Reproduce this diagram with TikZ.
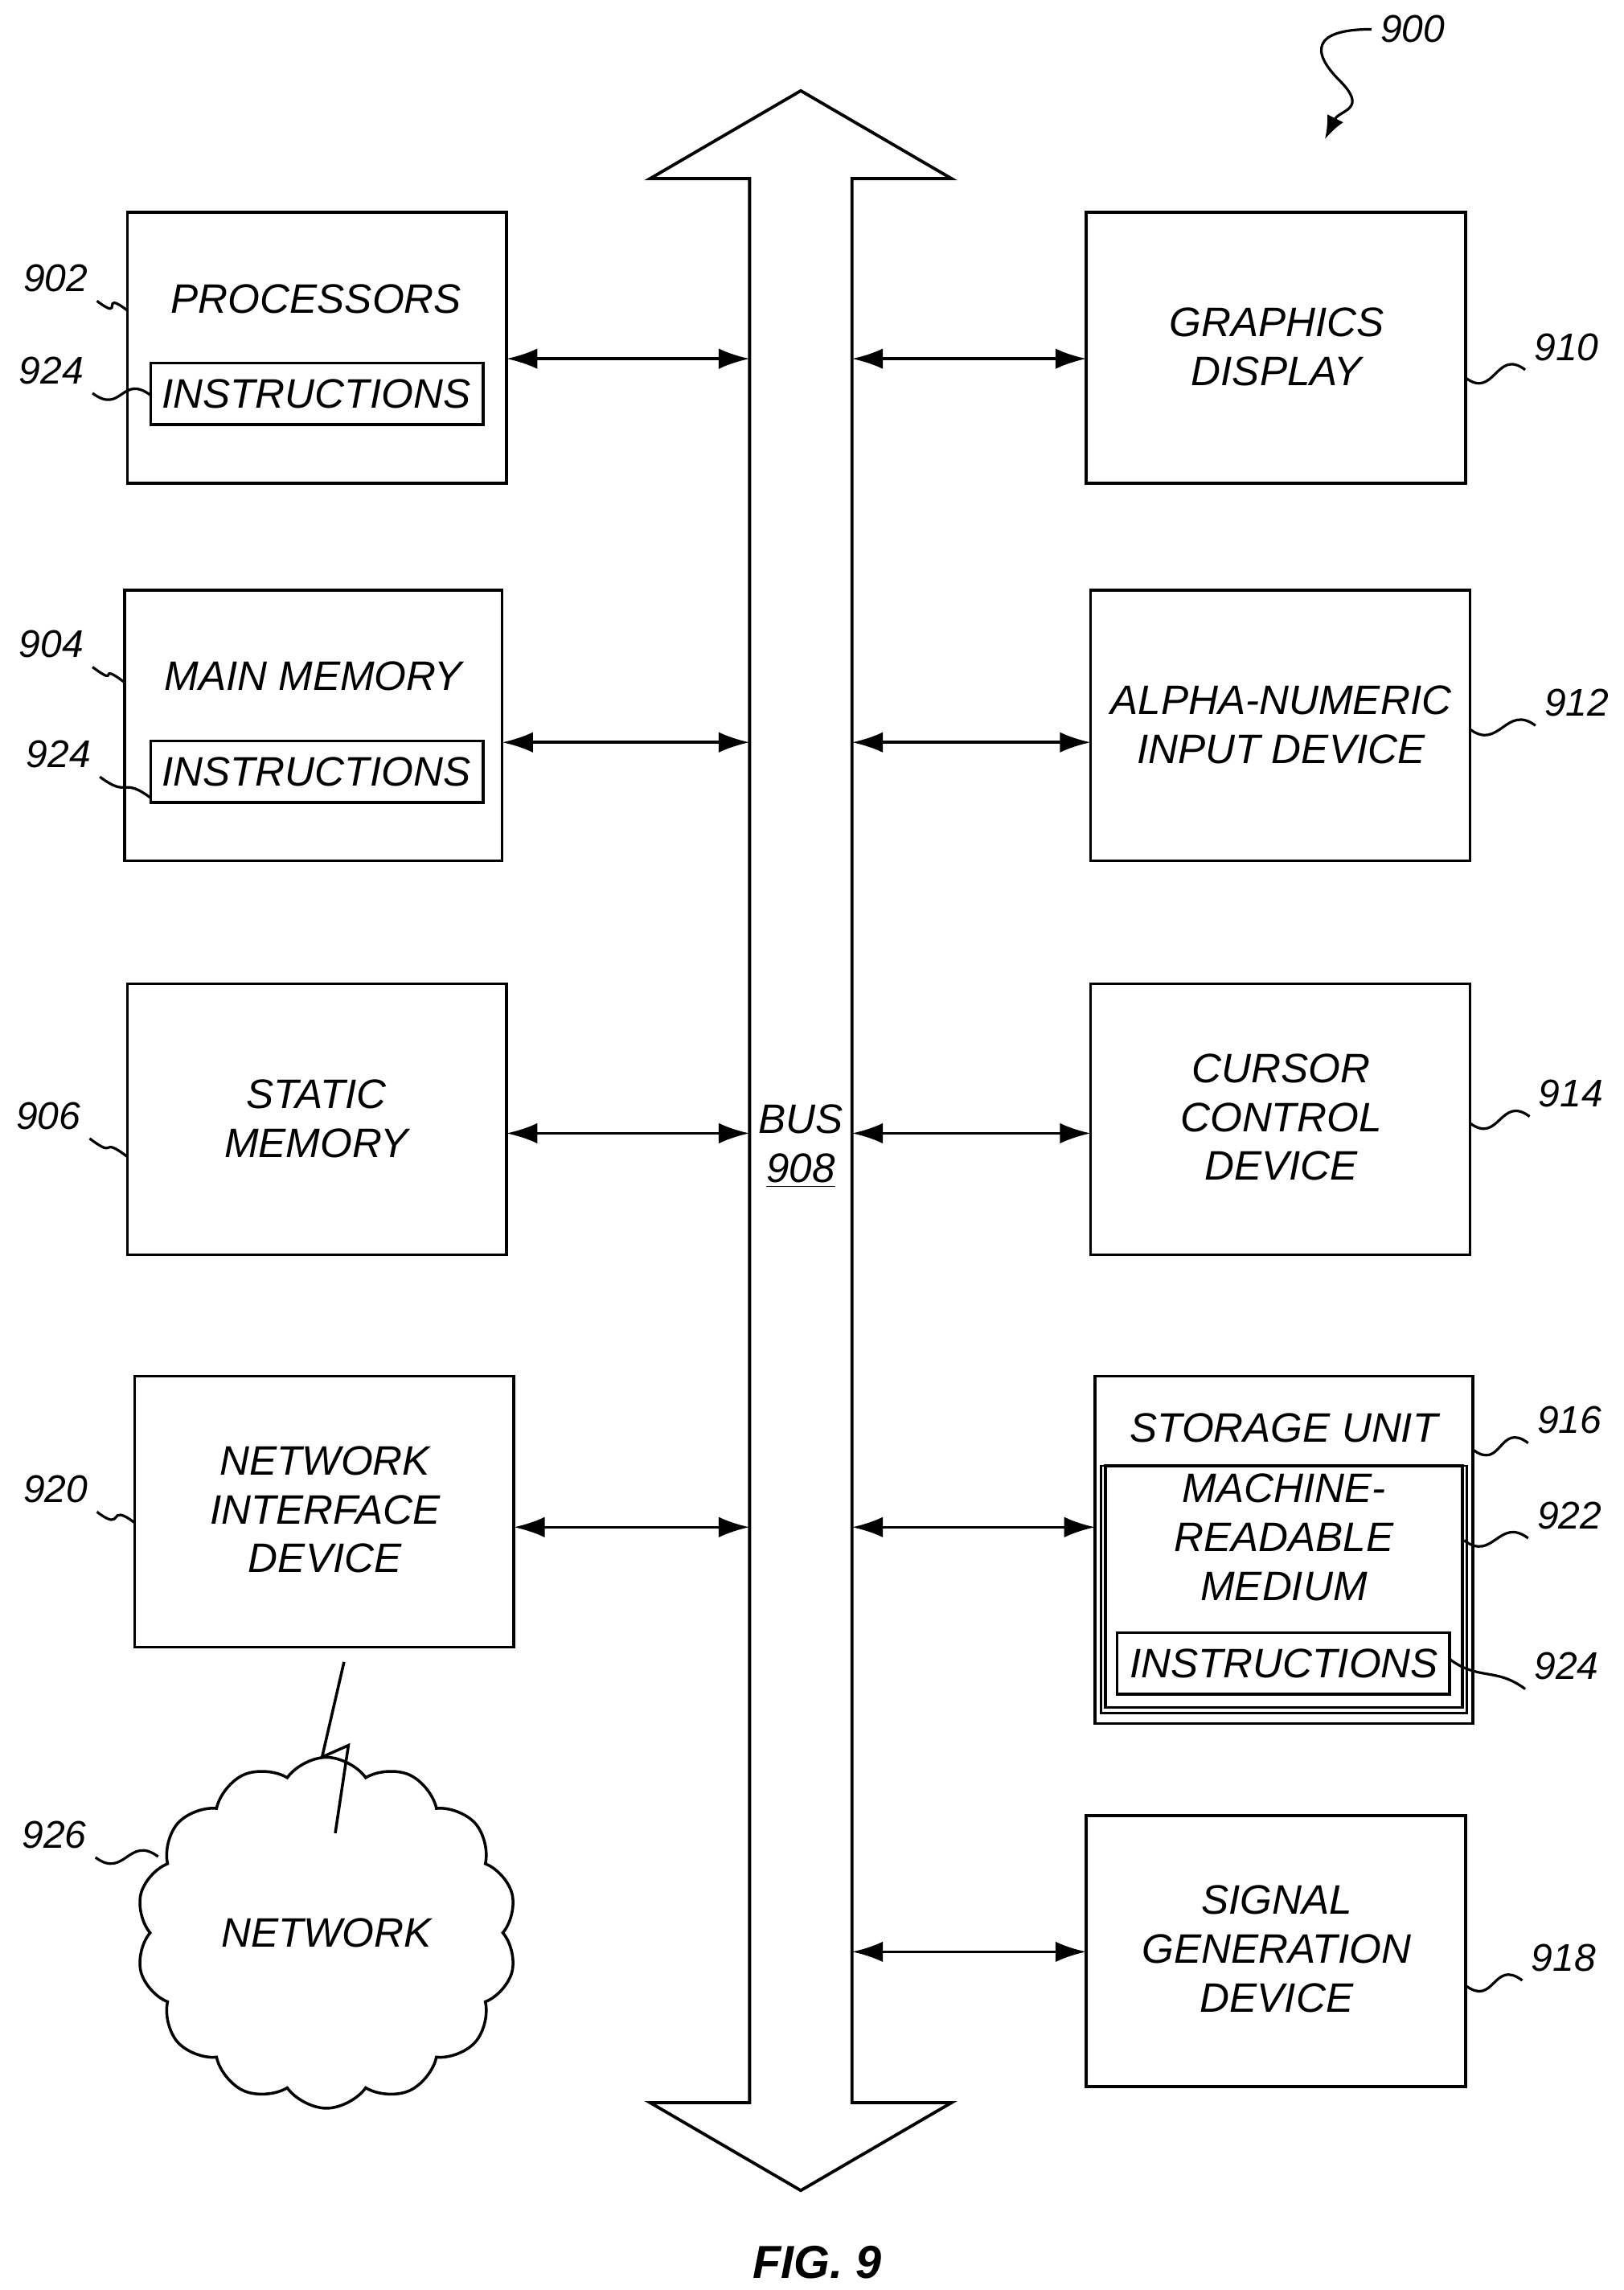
\documentclass[tikz,border=0pt]{standalone}
\usepackage{fontspec}
\setmainfont{Liberation Sans}
\usetikzlibrary{arrows.meta,shapes.symbols}
\begin{document}
\begin{tikzpicture}[x=0.02cm,y=-0.02cm,
  box/.style={draw,line width=1.1pt},
  txt/.style={font=\fontsize{16}{19}\selectfont\itshape,align=center},
  lab/.style={font=\fontsize{15}{18}\selectfont\itshape},
  con/.style={line width=1.1pt,{Latex[length=12pt,width=8pt]}-{Latex[length=12pt,width=8pt]}},
  sq/.style={line width=1pt}]
\useasboundingbox (0,0) rectangle (1109,1564);
% bus
\draw[line width=1.2pt] (512,1436) -- (512,122) -- (444,122) -- (547,62) -- (650,122) -- (582,122) -- (582,1436) -- (650,1436) -- (547,1496) -- (444,1436) -- cycle;
\node[txt] (bus) at (547,783) {BUS\\\underline{908}};
% left boxes
\draw[box] (87,145) rectangle (346,330); \node[txt] (proc) at (216,204) {PROCESSORS};
\draw[box] (103,248) rectangle (330,290); \node[txt] (i1) at (216,269) {INSTRUCTIONS};
\draw[box] (85,403) rectangle (343,588); \node[txt] (mm) at (214,462) {MAIN MEMORY};
\draw[box] (103,506) rectangle (330,548); \node[txt] (i2) at (216,527) {INSTRUCTIONS};
\draw[box] (87,672) rectangle (346,857); \node[txt] (sm) at (216,764) {STATIC\\MEMORY};
\draw[box] (92,940) rectangle (351,1125); \node[txt] (nid) at (222,1031) {NETWORK\\INTERFACE\\DEVICE};
% right boxes
\draw[box] (742,145) rectangle (1001,330); \node[txt] (gd) at (872,237) {GRAPHICS\\DISPLAY};
\draw[box] (745,403) rectangle (1004,588); \node[txt] (an) at (875,495) {ALPHA-NUMERIC\\INPUT DEVICE};
\draw[box] (745,672) rectangle (1004,857); \node[txt] (cc) at (875,763) {CURSOR\\CONTROL\\DEVICE};
\draw[box] (748,940) rectangle (1006,1177); \node[txt] (su) at (877,975) {STORAGE UNIT};
\draw[line width=0.8pt] (752,1001) rectangle (1002,1170);
\draw[box] (755,1001) rectangle (999,1166); \node[txt] (mr) at (877,1050) {MACHINE-\\READABLE\\MEDIUM};
\draw[box] (763,1115) rectangle (990,1157); \node[txt] (i3) at (877,1136) {INSTRUCTIONS};
\draw[box] (742,1240) rectangle (1001,1425); \node[txt] (sg) at (872,1331) {SIGNAL\\GENERATION\\DEVICE};
% connectors
\draw[con] (346,245) -- (512,245);
\draw[con] (343,507) -- (512,507);
\draw[con] (346,774) -- (512,774);
\draw[con] (351,1043) -- (512,1043);
\draw[con] (582,245) -- (742,245);
\draw[con] (582,507) -- (745,507);
\draw[con] (582,774) -- (745,774);
\draw[con] (582,1043) -- (748,1043);
\draw[con] (582,1333) -- (742,1333);
% cloud
\node[cloud,draw,line width=1.1pt,cloud puffs=14,cloud puff arc=110,minimum width=260*0.02cm,minimum height=128*0.02cm,txt] (net) at (223,1320) {NETWORK};
\draw[line width=1.1pt] (235,1135) -- (220,1200) -- (238,1192) -- (229,1252);
% labels
\node[lab] (l902) at (38,190) {902}; \draw[sq] (l902.south east) .. controls +(20,15) and +(-20,-15) .. (87,212);
\node[lab] (l924a) at (35,253) {924}; \draw[sq] (l924a.south east) .. controls +(20,15) and +(-20,-15) .. (103,270);
\node[lab] (l904) at (35,440) {904}; \draw[sq] (l904.south east) .. controls +(20,15) and +(-20,-15) .. (85,466);
\node[lab] (l924b) at (40,515) {924}; \draw[sq] (l924b.south east) .. controls +(20,15) and +(-20,-15) .. (103,545);
\node[lab] (l906) at (33,762) {906}; \draw[sq] (l906.south east) .. controls +(20,15) and +(-20,-15) .. (87,790);
\node[lab] (l920) at (38,1017) {920}; \draw[sq] (l920.south east) .. controls +(20,15) and +(-20,-15) .. (92,1040);
\node[lab] (l926) at (37,1253) {926}; \draw[sq] (l926.south east) .. controls +(20,15) and +(-20,-15) .. (108,1268);
\node[lab] (l910) at (1070,237) {910}; \draw[sq] (1001,258) .. controls +(20,15) and +(-20,-15) .. (l910.south west);
\node[lab] (l912) at (1077,480) {912}; \draw[sq] (1004,498) .. controls +(20,15) and +(-20,-15) .. (l912.south west);
\node[lab] (l914) at (1073,747) {914}; \draw[sq] (1004,767) .. controls +(20,15) and +(-20,-15) .. (l914.south west);
\node[lab] (l916) at (1072,970) {916}; \draw[sq] (1006,990) .. controls +(20,15) and +(-20,-15) .. (l916.south west);
\node[lab] (l922) at (1072,1035) {922}; \draw[sq] (1000,1052) .. controls +(20,15) and +(-20,-15) .. (l922.south west);
\node[lab] (l924c) at (1070,1138) {924}; \draw[sq] (990,1133) .. controls +(20,15) and +(-20,-15) .. (l924c.south west);
\node[lab] (l918) at (1068,1337) {918}; \draw[sq] (1001,1356) .. controls +(20,15) and +(-20,-15) .. (l918.south west);
\node[lab] (l900) at (965,20) {900};
\coordinate (t900) at (905,95);
\draw[sq,-{Latex[length=9pt,width=7pt]}] (l900.west) .. controls +(-40,0) and +(-20,-20) .. (915,55) .. controls +(20,20) and +(10,-20) .. (t900);
\node[font=\fontsize{18}{20}\selectfont\bfseries\itshape] (fig) at (558,1545) {FIG. 9};
\end{tikzpicture}
\end{document}
